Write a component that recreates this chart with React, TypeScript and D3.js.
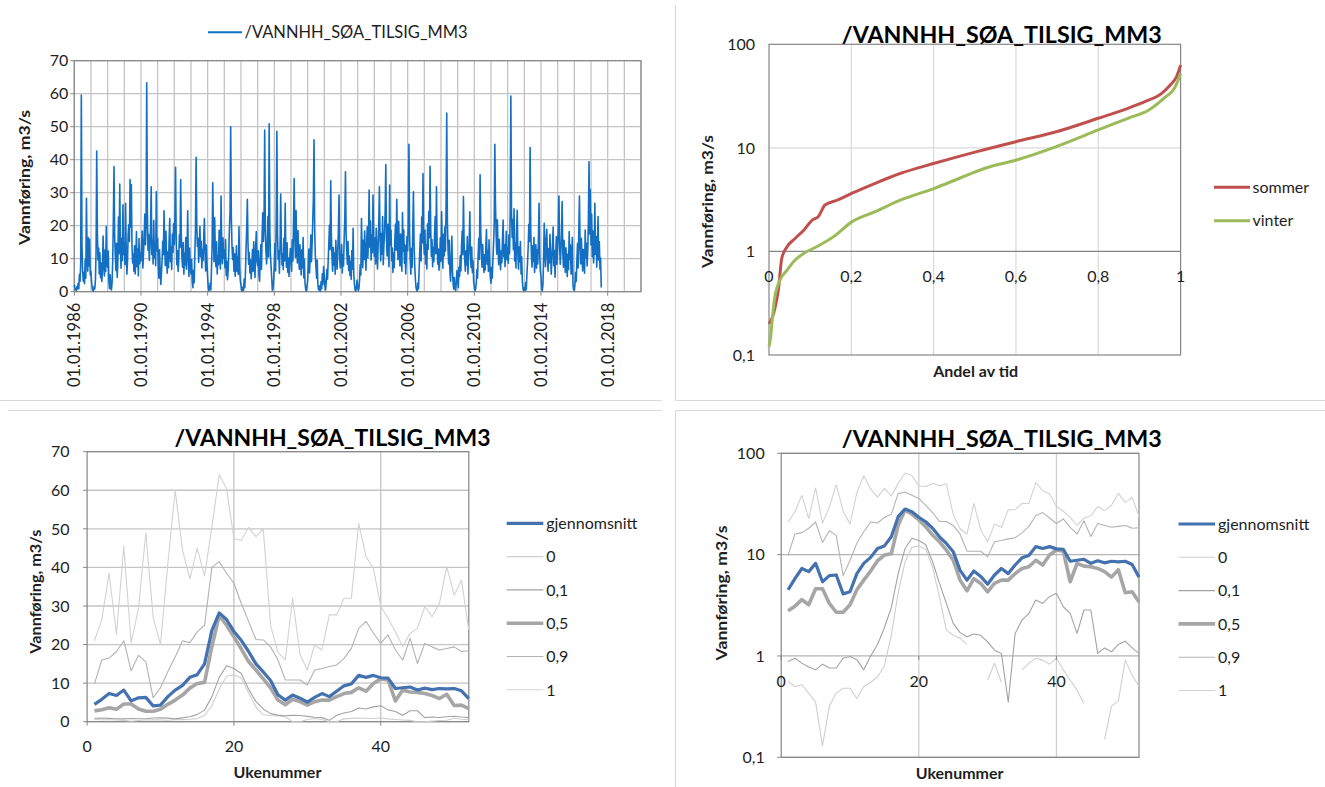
import React from "react";
import * as d3 from "d3";

const seriesName = "/VANNHH_SØA_TILSIG_MM3";
const flowAxisTitle = "Vannføring, m3/s";
const weekAxisTitle = "Ukenummer";
const shareAxisTitle = "Andel av tid";

// Inflow time series, m3/s: 26 samples (every 14 days) per calendar year
const firstYear = 1986;
const samplesPerYear = 26;
const flow1986to1995 = [
  2.1, 1.2, 0.6, 0.4, 1.5, 0.8, 2.5, 0.9, 5.2, 3.1, 8.4, 59.6, 14.2, 6.3, 3.2, 5.8, 2.4, 9.7, 4.1, 28.3, 12.5, 6.2, 16.4, 7.8, 15.9, 5.1,
  6.2, 2.8, 1.1, 0.4, 0.2, 1.6, 0.9, 3.5, 12.1, 42.6, 18.4, 9.6, 13.2, 5.4, 11.8, 4.2, 8.7, 3.1, 6.5, 16.9, 9.2, 4.8, 12.6, 6.1, 19.8, 8.3,
  7.4, 12.3, 3.2, 0.9, 5.1, 1.4, 0.5, 2.8, 9.6, 22.1, 37.9, 17.2, 10.8, 6.4, 14.7, 4.3, 8.9, 22.6, 11.5, 32.6, 13.8, 7.1, 16.2, 9.4, 26.3, 11.2,
  14.6, 8.2, 26.8, 12.4, 5.3, 9.1, 17.5, 20.3, 15.2, 34.0, 19.6, 32.5, 14.1, 8.7, 11.3, 6.2, 13.9, 5.4, 9.8, 18.2, 7.6, 12.9, 4.8, 16.1, 8.5, 11.7,
  9.3, 13.8, 18.4, 7.2, 11.6, 16.9, 23.5, 14.2, 20.1, 63.3, 24.8, 12.6, 17.3, 9.5, 13.1, 19.4, 31.8, 11.2, 15.7, 8.4, 21.6, 10.3, 14.8, 7.9, 30.3, 12.4,
  16.2, 8.4, 4.1, 12.7, 6.3, 2.2, 5.8, 9.6, 15.3, 11.2, 24.5, 14.6, 7.9, 18.3, 10.4, 5.6, 12.1, 7.3, 15.8, 22.2, 9.1, 13.5, 6.7, 17.4, 11.9, 20.6,
  14.3, 22.8, 37.7, 15.6, 8.2, 12.4, 6.1, 9.7, 17.3, 13.5, 34.0, 16.8, 10.2, 7.4, 14.9, 5.3, 11.6, 8.1, 16.4, 6.8, 12.7, 24.5, 9.3, 4.6, 13.2, 7.9,
  5.4, 9.8, 3.1, 1.2, 6.5, 2.7, 11.4, 18.6, 40.7, 21.3, 13.7, 16.2, 8.9, 14.5, 19.8, 10.6, 15.3, 7.2, 12.8, 9.4, 17.1, 22.2, 11.5, 6.3, 14.1, 8.7,
  4.2, 1.3, 0.3, 0.8, 2.6, 0.5, 6.8, 14.2, 33.0, 17.5, 9.1, 22.4, 12.3, 7.6, 15.1, 5.4, 10.8, 8.2, 18.6, 11.4, 6.9, 29.0, 13.7, 8.5, 16.3, 10.1,
  12.6, 7.3, 15.8, 4.9, 9.2, 3.6, 6.4, 11.7, 18.9, 24.3, 50.0, 22.6, 14.1, 9.8, 13.4, 6.2, 11.5, 4.7, 8.3, 13.9, 6.1, 10.4, 5.2, 19.7, 7.8, 3.4,
];
const flow1996to2005 = [
  2.1, 0.6, 0.2, 1.4, 0.4, 3.8, 1.2, 5.6, 13.4, 19.2, 28.0, 14.7, 8.3, 11.9, 5.7, 9.6, 3.9, 7.4, 12.8, 6.2, 15.1, 8.7, 4.3, 13.6, 18.2, 9.4,
  7.8, 12.4, 5.1, 3.2, 9.7, 14.3, 6.8, 17.6, 23.9, 15.2, 21.4, 49.0, 18.7, 12.1, 8.4, 13.6, 22.8, 10.5, 50.9, 19.3, 11.2, 7.6, 4.1, 0.4, 0.9, 3.6,
  8.2, 14.6, 6.3, 22.1, 48.6, 17.4, 9.8, 12.3, 5.6, 13.9, 29.6, 15.3, 8.1, 11.4, 6.7, 16.2, 9.3, 26.8, 12.5, 7.4, 14.8, 5.9, 10.2, 4.6, 8.8, 13.1,
  11.4, 6.2, 15.7, 9.3, 20.8, 34.3, 16.1, 10.4, 24.6, 13.2, 8.7, 18.5, 11.3, 6.8, 14.2, 9.5, 5.1, 12.7, 7.3, 16.4, 4.2, 9.8, 2.6, 0.7, 0.2, 1.5,
  3.4, 8.6, 12.9, 5.7, 10.3, 17.2, 9.1, 14.6, 21.3, 28.4, 46.0, 19.7, 11.2, 7.5, 4.1, 9.6, 2.3, 0.6, 1.8, 0.4, 0.2, 3.1, 0.9, 5.4, 2.2, 7.6,
  4.8, 1.6, 0.5, 2.9, 6.7, 3.8, 9.2, 14.5, 20.1, 12.7, 33.6, 17.3, 10.6, 6.2, 13.4, 8.1, 11.7, 5.3, 15.6, 9.4, 6.8, 12.2, 18.7, 29.3, 10.1, 7.2,
  9.6, 14.3, 5.7, 11.2, 7.8, 16.4, 22.7, 36.3, 17.9, 12.1, 8.3, 15.2, 6.4, 10.8, 4.9, 9.2, 3.7, 12.5, 6.8, 19.2, 5.1, 2.4, 0.6, 0.2, 1.1, 3.5,
  1.8, 0.4, 0.9, 3.6, 8.2, 5.1, 22.2, 12.4, 7.3, 15.6, 9.8, 18.4, 11.2, 6.5, 14.3, 19.7, 10.2, 16.8, 30.8, 13.5, 21.4, 9.6, 17.2, 11.8, 29.3, 15.4,
  10.7, 16.3, 8.4, 19.2, 12.6, 6.9, 14.1, 20.5, 31.8, 15.7, 9.3, 17.6, 11.4, 22.8, 8.2, 13.9, 18.1, 24.6, 38.5, 16.3, 10.8, 20.4, 12.7, 7.6, 32.3, 14.2,
  18.6, 9.4, 13.2, 5.8, 11.7, 7.3, 15.9, 20.4, 12.6, 28.0, 16.2, 9.7, 21.3, 13.4, 7.8, 17.5, 10.9, 6.2, 24.0, 12.3, 18.7, 8.6, 14.1, 5.4, 10.2, 16.7,
];
const flow2006to2017 = [
  12.4, 21.7, 44.7, 17.8, 9.6, 5.3, 13.1, 7.4, 18.9, 30.3, 14.6, 8.2, 4.1, 1.3, 0.5, 0.2, 2.6, 0.8, 6.9, 12.7, 17.5, 9.3, 22.6, 14.8, 35.8, 16.1,
  11.3, 18.7, 8.4, 14.2, 6.9, 20.5, 12.8, 24.3, 16.4, 38.0, 19.2, 10.7, 15.8, 7.6, 13.4, 9.1, 17.2, 22.8, 11.5, 31.8, 14.6, 8.3, 12.9, 6.5, 9.7, 16.3,
  9.2, 24.2, 13.6, 7.1, 17.4, 10.8, 19.6, 12.3, 26.5, 54.1, 21.7, 13.2, 8.4, 15.6, 5.9, 3.2, 9.7, 16.8, 6.1, 2.4, 0.8, 4.3, 1.1, 0.3, 2.7, 6.4,
  3.8, 1.2, 7.4, 4.6, 10.9, 6.3, 13.8, 18.4, 11.2, 28.8, 15.3, 9.6, 6.2, 12.4, 8.1, 16.7, 5.4, 10.3, 14.9, 24.2, 11.6, 7.3, 13.5, 5.8, 9.4, 3.1,
  1.4, 0.3, 0.8, 2.5, 6.7, 4.1, 11.3, 16.2, 9.8, 35.4, 18.6, 12.1, 7.4, 14.3, 9.5, 5.8, 11.2, 6.6, 13.8, 18.8, 8.3, 12.5, 6.1, 15.7, 9.6, 4.2,
  2.6, 7.4, 4.1, 9.8, 14.6, 20.3, 44.7, 26.9, 17.2, 11.4, 21.8, 13.6, 8.2, 15.9, 10.3, 6.7, 12.4, 8.8, 16.1, 21.7, 10.5, 14.2, 7.6, 12.8, 18.3, 9.7,
  13.4, 8.6, 17.2, 11.5, 24.3, 59.3, 23.8, 16.4, 21.9, 12.7, 25.1, 9.3, 14.8, 7.2, 18.6, 24.7, 11.3, 6.8, 13.5, 9.1, 15.2, 5.4, 10.6, 3.2, 0.9, 0.3,
  1.2, 0.4, 2.8, 0.6, 5.3, 8.9, 13.6, 20.4, 15.2, 43.7, 18.6, 11.3, 7.4, 13.9, 9.2, 16.4, 5.8, 10.7, 14.3, 7.1, 12.6, 8.4, 15.9, 26.8, 11.4, 6.3,
  4.6, 0.8, 0.3, 2.1, 9.4, 20.7, 12.3, 7.6, 15.8, 18.9, 10.4, 6.2, 13.1, 8.7, 17.4, 11.6, 5.3, 9.8, 14.2, 19.6, 7.9, 12.5, 4.4, 10.8, 16.7, 8.3,
  13.2, 19.4, 29.0, 14.6, 8.3, 11.7, 17.5, 27.3, 12.1, 7.4, 15.6, 10.2, 5.8, 13.3, 8.9, 4.6, 11.4, 6.7, 18.2, 9.8, 14.1, 5.3, 10.7, 16.4, 1.9, 0.6,
  0.4, 2.3, 5.8, 3.1, 9.4, 14.6, 7.2, 18.3, 29.0, 13.6, 8.4, 16.2, 11.1, 6.3, 12.8, 9.5, 5.6, 18.7, 10.3, 14.7, 7.8, 12.2, 21.6, 39.4, 17.5, 31.0,
  14.2, 23.5, 10.6, 18.4, 8.7, 12.9, 26.8, 11.3, 16.7, 7.4, 13.2, 22.8, 9.6, 15.1, 6.8, 10.2, 1.3,
];
const dateTickYears = [1986, 1990, 1994, 1998, 2002, 2006, 2010, 2014, 2018];
const flowTicks = [0, 10, 20, 30, 40, 50, 60, 70];

// Duration curves (share of time vs. flow), summer and winter
const sommerShare = [0, 0.008, 0.015, 0.023, 0.031, 0.044, 0.064, 0.085, 0.105, 0.12, 0.136, 0.167, 0.202, 0.258, 0.32, 0.402, 0.505, 0.601, 0.698, 0.8, 0.872, 0.913, 0.954, 0.975, 0.99, 1.0];
const sommerFlow = [0.2, 0.23, 0.29, 0.43, 0.86, 1.11, 1.34, 1.61, 2.01, 2.17, 2.81, 3.14, 3.65, 4.55, 5.69, 7.1, 9.2, 11.5, 14.3, 19.3, 24.1, 27.9, 33.6, 40.4, 48.6, 63.0];
const vinterShare = [0, 0.004, 0.008, 0.013, 0.023, 0.044, 0.064, 0.085, 0.116, 0.157, 0.202, 0.258, 0.32, 0.402, 0.463, 0.525, 0.601, 0.698, 0.8, 0.872, 0.923, 0.964, 0.985, 1.0];
const vinterFlow = [0.12, 0.15, 0.22, 0.34, 0.49, 0.66, 0.83, 0.96, 1.11, 1.39, 1.94, 2.42, 3.14, 4.07, 5.09, 6.35, 7.64, 10.3, 14.9, 19.3, 23.2, 31.2, 37.6, 52.0];
const seasonLabels = ["sommer", "vinter"];
const shareTicks = [0, 0.2, 0.4, 0.6, 0.8, 1];
const logTicks = [0.1, 1, 10, 100];

// Weekly statistics, weeks 1-52: mean and percentiles 0, 0.1, 0.5, 0.9, 1
const weekTicks = [0, 20, 40];
const weeklyMean = [4.5, 5.8, 7.3, 6.8, 8.2, 5.4, 6.2, 6.3, 4.1, 4.3, 6.5, 8.2, 9.4, 11.5, 12.2, 15.0, 23.7, 28.2, 26.5, 23.4, 21.1, 18.2, 15.0, 12.9, 10.7, 7.0, 5.6, 6.9, 6.1, 5.1, 6.3, 7.3, 6.5, 7.9, 9.3, 9.8, 12.0, 11.5, 12.0, 11.4, 11.3, 8.6, 8.8, 9.0, 8.2, 8.7, 8.3, 8.6, 8.5, 8.6, 8.0, 6.0];
const weeklyP0 = [0.56, 0.5, 0.52, 0.43, 0.35, 0.13, 0.32, 0.43, 0.48, 0.48, 0.38, 0.5, 0.55, 0.62, 0.8, 1.6, 4.2, 8.5, 11.8, 12.2, 11.3, 7.5, 3.8, 1.8, 1.6, 1.5, 1.3, 0, 0, 0.58, 0.85, 0.55, 0, 0, 0.73, 0.85, 0.95, 0.91, 0.83, 0.95, 0.73, 0.58, 0.46, 0.34, 0, 0, 0.15, 0.32, 0.36, 0.91, 0.65, 0.5];
const weeklyP10 = [0.88, 0.95, 0.85, 0.78, 0.73, 0.83, 0.76, 0.76, 0.95, 0.99, 0.92, 0.73, 1.0, 1.3, 1.9, 3.0, 6.5, 11.5, 14.5, 13.8, 12.5, 8.5, 5.2, 3.3, 2.1, 1.7, 1.55, 1.65, 1.6, 1.38, 1.14, 1.06, 0.35, 1.67, 2.26, 2.63, 3.56, 3.3, 3.85, 4.15, 3.06, 2.63, 1.67, 2.84, 2.84, 1.06, 1.2, 1.1, 1.3, 1.4, 1.2, 1.06];
const weeklyP50 = [2.8, 3.1, 3.6, 3.2, 4.6, 4.6, 3.3, 2.7, 2.7, 3.2, 4.5, 5.6, 6.9, 8.7, 9.9, 10.2, 19.5, 27.5, 25.0, 22.0, 18.9, 15.6, 13.4, 11.1, 8.8, 5.6, 4.4, 5.8, 5.2, 4.3, 5.2, 5.6, 5.6, 6.5, 7.3, 7.6, 8.8, 7.9, 9.9, 11.1, 10.8, 5.4, 8.2, 7.7, 7.6, 7.3, 6.8, 6.0, 7.1, 4.2, 4.3, 3.4];
const weeklyP90 = [9.8, 16.0, 16.5, 18.2, 21.0, 13.2, 17.2, 15.5, 6.2, 8.8, 13.0, 16.8, 21.0, 20.5, 23.3, 25.0, 40.0, 41.5, 38.5, 35.9, 30.7, 26.0, 21.3, 21.2, 19.4, 16.0, 10.8, 10.8, 10.8, 9.5, 13.4, 13.8, 14.3, 14.7, 16.4, 19.0, 24.2, 26.0, 23.0, 20.3, 22.5, 18.6, 16.0, 21.6, 15.1, 20.3, 19.4, 18.6, 19.0, 19.4, 18.2, 18.4];
const weeklyP100 = [21.0, 26.4, 38.5, 22.7, 45.5, 20.5, 29.4, 49.0, 27.0, 20.0, 41.0, 60.0, 44.5, 37.0, 45.0, 37.8, 50.5, 64.0, 60.5, 47.5, 47.0, 50.4, 48.0, 50.0, 25.0, 18.0, 16.0, 32.0, 17.5, 13.4, 19.9, 18.6, 27.7, 27.7, 32.0, 32.0, 51.4, 42.8, 39.8, 30.0, 26.8, 23.3, 19.5, 22.9, 24.2, 29.8, 27.2, 30.7, 40.2, 32.8, 36.7, 23.8];
const weeklyLabels = ["gjennomsnitt", "0", "0,1", "0,5", "0,9", "1"];

// ---------- styling ----------
const FONT = "Lato, 'Open Sans', 'DejaVu Sans', sans-serif";
const TEXT = "#1e1e1e";
const GRID = "#c4c4c4";
const FRAME = "#858585";
const PANEL = "#d9d9d9";
const TS_BLUE = "#136fc3";
const TICK_SIZE = 16;
const SEASON_COLORS = ["#c0504d", "#9bbb59"];
const WEEKLY_STYLES = [
  { color: "#4471b0", width: 3.2 },
  { color: "#cfcfcf", width: 1.1 },
  { color: "#a3a3a3", width: 1.1 },
  { color: "#a6a6a6", width: 3.6 },
  { color: "#b3b3b3", width: 1.1 },
  { color: "#d2d2d2", width: 1.1 },
];

const nb = d3.formatLocale({ decimal: ",", thousands: " ", grouping: [3], currency: ["", " kr"] });
const fmt = nb.format("~g");
const fmtDate = d3.timeFormat("%d.%m.%Y");

type Pt = [number, number];

function Title({ x, y, len }: { x: number; y: number; len: number }) {
  return (
    <text x={x} y={y} textAnchor="middle" fontFamily={FONT} fontWeight={700} fontSize={22} fill="#000"
      textLength={len} lengthAdjust="spacingAndGlyphs">{seriesName}</text>
  );
}

function VTitle({ cx, cy, len, size = 15 }: { cx: number; cy: number; len: number; size?: number }) {
  return (
    <text transform={`translate(${cx},${cy}) rotate(-90)`} textAnchor="middle" dy="0.35em" fontFamily={FONT}
      fontWeight={700} fontSize={size} fill={TEXT} textLength={len} lengthAdjust="spacingAndGlyphs">{flowAxisTitle}</text>
  );
}

// ---------- panel 1: time series ----------
function TimeSeriesPanel() {
  const flow = [...flow1986to1995, ...flow1996to2005, ...flow2006to2017];
  const data = flow.map((v, i) => {
    const year = firstYear + Math.floor(i / samplesPerYear);
    const k = i % samplesPerYear;
    return { date: new Date(year, 0, 1 + k * 14), v };
  });
  const x = d3.scaleTime().domain([new Date(1986, 0, 1), new Date(2020, 0, 1)]).range([74.3, 641]);
  const y = d3.scaleLinear().domain([0, 70]).range([291.7, 60.7]);
  const line = d3.line<{ date: Date; v: number }>().x((d) => x(d.date)).y((d) => y(d.v));
  const years = d3.timeYear.range(new Date(1986, 0, 1), new Date(2020, 0, 2));
  const [x0, x1] = x.range();
  const [y0, y1] = y.range();
  return (
    <g>
      {years.map((d, i) => (
        <line key={i} x1={x(d)} x2={x(d)} y1={y1} y2={y0} stroke={GRID} strokeWidth={1.3} />
      ))}
      {flowTicks.map((t) => (
        <line key={t} x1={x0} x2={x1} y1={y(t)} y2={y(t)} stroke={GRID} strokeWidth={1.3} />
      ))}
      <rect x={x0} y={y1} width={x1 - x0} height={y0 - y1} fill="none" stroke={FRAME} strokeWidth={1.2} />
      <path d={line(data) || ""} fill="none" stroke={TS_BLUE} strokeWidth={1.6} strokeLinejoin="round" />
      {flowTicks.map((t) => (
        <g key={t}>
          <line x1={x0 - 4} x2={x0} y1={y(t)} y2={y(t)} stroke={FRAME} />
          <text x={x0 - 6} y={y(t)} dy="0.36em" textAnchor="end" fontFamily={FONT} fontSize={TICK_SIZE} fill={TEXT}>{t}</text>
        </g>
      ))}
      {dateTickYears.map((yr) => {
        const d = new Date(yr, 0, 1);
        return (
          <g key={yr}>
            <line x1={x(d)} x2={x(d)} y1={y0} y2={y0 + 4} stroke={FRAME} />
            <text transform={`translate(${x(d)},${y0 + 11}) rotate(-90)`} dy="0.36em" textAnchor="end"
              fontFamily={FONT} fontSize={16.5} fill={TEXT}>{fmtDate(d)}</text>
          </g>
        );
      })}
      <VTitle cx={24} cy={177.5} len={135} size={16} />
      <line x1={208} x2={242} y1={32.3} y2={32.3} stroke={TS_BLUE} strokeWidth={2} />
      <text x={244.5} y={32.3} dy="0.36em" fontFamily={FONT} fontSize={17} fill={TEXT}
        textLength={223} lengthAdjust="spacingAndGlyphs">{seriesName}</text>
    </g>
  );
}

// ---------- panel 2: duration curves ----------
function DurationPanel() {
  const x = d3.scaleLinear().domain([0, 1]).range([769, 1180.6]);
  const y = d3.scaleLog().domain([0.1, 100]).range([355, 44.3]);
  const line = d3.line<Pt>().x((d) => x(d[0])).y((d) => y(d[1])).curve(d3.curveMonotoneX);
  const curves: Pt[][] = [
    sommerShare.map((s, i) => [s, sommerFlow[i]] as Pt),
    vinterShare.map((s, i) => [s, vinterFlow[i]] as Pt),
  ];
  const [x0, x1] = x.range();
  const [y0, y1] = y.range();
  return (
    <g>
      {shareTicks.slice(1, -1).map((t) => (
        <line key={t} x1={x(t)} x2={x(t)} y1={y1} y2={y0} stroke="#dadada" strokeWidth={1.2} />
      ))}
      <line x1={x0} x2={x1} y1={y(10)} y2={y(10)} stroke="#dadada" strokeWidth={1.2} />
      <rect x={x0} y={y1} width={x1 - x0} height={y0 - y1} fill="none" stroke={FRAME} strokeWidth={1.2} />
      <line x1={x0} x2={x1} y1={y(1)} y2={y(1)} stroke={FRAME} strokeWidth={1.2} />
      {curves.map((c, i) => (
        <path key={i} d={line(c) || ""} fill="none" stroke={SEASON_COLORS[i]} strokeWidth={3} strokeLinejoin="round" />
      ))}
      {logTicks.map((t) => (
        <text key={t} x={x0 - 14} y={y(t)} dy="0.36em" textAnchor="end" fontFamily={FONT} fontSize={TICK_SIZE} fill={TEXT}>{fmt(t)}</text>
      ))}
      {shareTicks.map((t) => (
        <text key={t} x={x(t)} y={276.7} dy="0.36em" textAnchor="middle" fontFamily={FONT} fontSize={TICK_SIZE} fill={TEXT}>{fmt(t)}</text>
      ))}
      <Title x={1001.7} y={43} len={320} />
      <VTitle cx={707} cy={201.5} len={133} size={16} />
      <text x={975.6} y={371} dy="0.36em" textAnchor="middle" fontFamily={FONT} fontWeight={700} fontSize={16} fill={TEXT}>{shareAxisTitle}</text>
      {seasonLabels.map((lab, i) => (
        <g key={lab}>
          <line x1={1214} x2={1250} y1={187.3 + i * 33.4} y2={187.3 + i * 33.4} stroke={SEASON_COLORS[i]} strokeWidth={3} />
          <text x={1252.5} y={187.3 + i * 33.4} dy="0.36em" fontFamily={FONT} fontSize={TICK_SIZE} fill={TEXT}>{lab}</text>
        </g>
      ))}
    </g>
  );
}

// ---------- panels 3 and 4: weekly statistics ----------
const weeklySeries = [weeklyMean, weeklyP0, weeklyP10, weeklyP50, weeklyP90, weeklyP100];
const drawOrder = [1, 5, 2, 4, 3, 0];

function WeeklyPanel({ log }: { log: boolean }) {
  const x = d3.scaleLinear().domain([0, 52]).range(log ? [781.2, 1139] : [87.1, 468.8]);
  const yLin = d3.scaleLinear().domain([0, 70]).range([721.7, 451.7]);
  const yLog = d3.scaleLog().domain([0.1, 100]).range([757.3, 453.3]);
  const y = (v: number) => (log ? yLog(v) : yLin(v));
  const line = d3
    .line<Pt>()
    .defined((d) => !log || d[1] > 0)
    .x((d) => x(d[0]))
    .y((d) => y(d[1]));
  const [x0, x1] = x.range();
  const yTop = log ? 453.3 : 451.7;
  const yBot = log ? 757.3 : 721.7;
  const hTicks = log ? logTicks : flowTicks;
  const axisY = log ? yLog(1) : yLin(0);
  const legendX = log ? 1178.5 : 506.7;
  const legendY = log ? 524 : 523.3;
  return (
    <g>
      {weekTicks.slice(1).map((t) => (
        <line key={t} x1={x(t)} x2={x(t)} y1={yTop} y2={yBot} stroke={log ? "#d0d0d0" : GRID} strokeWidth={1.3} />
      ))}
      {hTicks.map((t) => (
        <line key={t} x1={x0} x2={x1} y1={y(t)} y2={y(t)} stroke={log ? "#b4b4b4" : GRID} strokeWidth={1.3} />
      ))}
      <rect x={x0} y={yTop} width={x1 - x0} height={yBot - yTop} fill="none" stroke={FRAME} strokeWidth={1.2} />
      {drawOrder.map((si) => {
        const pts: Pt[] = weeklySeries[si].map((v, i) => [i + 1, v] as Pt);
        return (
          <path key={si} d={line(pts) || ""} fill="none" stroke={WEEKLY_STYLES[si].color}
            strokeWidth={WEEKLY_STYLES[si].width} strokeLinejoin="round" />
        );
      })}
      {hTicks.map((t) => (
        <g key={t}>
          <line x1={x0 - 4} x2={x0} y1={y(t)} y2={y(t)} stroke={FRAME} />
          <text x={log ? 764.7 : 69.5} y={y(t)} dy="0.36em" textAnchor="end" fontFamily={FONT} fontSize={TICK_SIZE} fill={TEXT}>{fmt(t)}</text>
        </g>
      ))}
      {weekTicks.map((t) => (
        <g key={t}>
          <line x1={x(t)} x2={x(t)} y1={axisY} y2={axisY + 4} stroke={FRAME} />
          <text x={x(t)} y={log ? 681.7 : 746.7} dy="0.36em" textAnchor="middle" fontFamily={FONT} fontSize={TICK_SIZE} fill={TEXT}>{t}</text>
        </g>
      ))}
      <Title x={log ? 1001.7 : 332.5} y={log ? 447 : 446} len={log ? 320 : 316} />
      <VTitle cx={log ? 721.8 : 35.8} cy={log ? 593 : 591.7} len={log ? 135 : 124} size={16} />
      <text x={log ? 959.6 : 277.5} y={log ? 773.3 : 772.7} dy="0.36em" textAnchor="middle" fontFamily={FONT}
        fontWeight={700} fontSize={16} fill={TEXT}>{weekAxisTitle}</text>
      {weeklyLabels.map((lab, i) => {
        const ly = legendY + i * 33.3;
        return (
          <g key={lab}>
            <line x1={legendX} x2={legendX + 36.6} y1={ly} y2={ly} stroke={WEEKLY_STYLES[i].color} strokeWidth={WEEKLY_STYLES[i].width} />
            <text x={legendX + 39.5} y={ly} dy="0.36em" fontFamily={FONT} fontSize={TICK_SIZE} fill={TEXT}>{lab}</text>
          </g>
        );
      })}
    </g>
  );
}

export default function App() {
  return (
    <svg width={1325} height={787} viewBox="0 0 1325 787"
      style={{ position: "absolute", left: 0, top: 0, background: "#fff", display: "block" }}>
      <rect x={0} y={0} width={1325} height={787} fill="#fff" />
      {/* panel frames */}
      <line x1={0} x2={662} y1={400.5} y2={400.5} stroke={PANEL} strokeWidth={1.2} />
      <line x1={675.5} x2={1325} y1={400.5} y2={400.5} stroke={PANEL} strokeWidth={1.2} />
      <line x1={675.5} x2={675.5} y1={5} y2={400.5} stroke={PANEL} strokeWidth={1.2} />
      <line x1={8} x2={662} y1={410.5} y2={410.5} stroke={PANEL} strokeWidth={1.2} />
      <line x1={675.5} x2={1325} y1={410.5} y2={410.5} stroke={PANEL} strokeWidth={1.2} />
      <line x1={675.5} x2={675.5} y1={410.5} y2={787} stroke={PANEL} strokeWidth={1.2} />
      <TimeSeriesPanel />
      <DurationPanel />
      <WeeklyPanel log={false} />
      <WeeklyPanel log={true} />
    </svg>
  );
}
